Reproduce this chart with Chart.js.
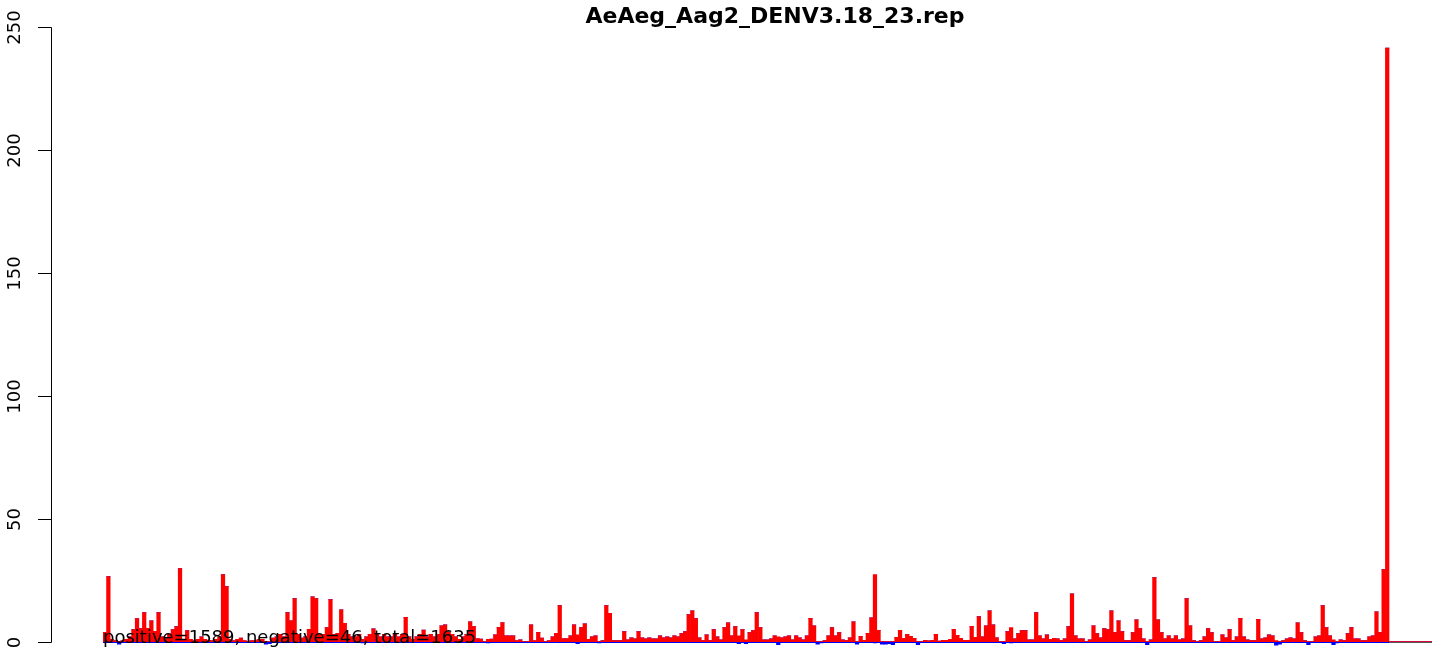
<!DOCTYPE html>
<html>
<head>
<meta charset="utf-8">
<script src="https://cdn.jsdelivr.net/npm/chart.js@4/dist/chart.umd.min.js"></script>
<style>
    html, body { margin: 0; padding: 0; background: #fff; }
    #wrap { width: 1444px; height: 656px; }
</style>
</head>
<body>
<div id="wrap"><canvas id="repChart" width="1444" height="656"></canvas></div>
<script>
const chartTitle = "AeAeg_Aag2_DENV3.18_23.rep";
const summaryText = "positive=1589, negative=46, total=1635";
const yTicks = [0, 50, 100, 150, 200, 250];

// one value per bin
const positiveCounts = [
    3.8, 26.5, 1, 0.5, 0, 0.5, 1, 2, 4.9, 9.4, 5.3, 11.8, 5.4, 8.5, 4.2, 11.8, 2, 1.5, 3, 4.9,
    6.1, 29.7, 1, 4.5, 1, 0.5, 1, 2, 1, 0.5, 0.5, 1, 2, 27.3, 22.4, 1, 0.5, 1, 1.5, 0.5,
    0, 0.5, 0.5, 1, 1, 0, 0, 1.5, 2, 3, 2, 11.8, 8.5, 17.5, 3, 1.5, 2, 5, 18.3, 17.5,
    3, 3, 5.7, 17.1, 3, 3.4, 13, 7.5, 3, 2, 2, 3, 1, 2, 3, 5.2, 3, 2, 3, 2,
    2, 3, 2, 3, 9.9, 2, 1, 2, 3, 4.7, 2, 3, 2, 3, 6.5, 6.9, 4, 3, 2, 1,
    2, 3, 8.1, 6.1, 1.3, 1.1, 0, 1, 1.1, 2.8, 5.8, 7.8, 2.4, 2.4, 2.4, 0.5, 0.8, 0, 0, 6.9,
    0.5, 3.8, 1.5, 0, 0.5, 2, 3.4, 14.7, 1.3, 1.3, 2.4, 6.9, 2.8, 5.7, 7.3, 1.0, 2.0, 2.4, 0, 0.4,
    14.7, 11.5, 0.4, 0.4, 0.4, 4.1, 0.8, 1.6, 1.2, 4.1, 1.6, 1.2, 1.6, 1.2, 1.2, 2.4, 1.6, 2.0, 1.6, 2.4,
    2.0, 3.3, 4.1, 11.0, 12.6, 9.4, 1.6, 0.4, 2.8, 0.4, 4.9, 2.0, 0.8, 5.7, 7.7, 2.4, 6.1, 2.4, 4.9, 0.8,
    3.7, 4.5, 11.8, 5.7, 0.8, 0.8, 1.2, 2.4, 2.0, 1.6, 2.0, 2.4, 0.8, 2.4, 1.6, 0.8, 2.4, 9.5, 6.5, 0,
    0, 0.4, 2.4, 5.7, 2.4, 3.7, 0.8, 0.4, 1.6, 8.1, 0, 2.2, 0.6, 3.4, 9.7, 27.3, 4.6, 0, 0, 0,
    0, 1.8, 4.6, 1.4, 3.0, 2.2, 1.4, 0, 0, 0.6, 0.3, 0.6, 3.0, 0.2, 0.6, 0.6, 1.0, 5.0, 2.6, 1.4,
    0.6, 0.6, 6.2, 1.8, 10.2, 2.0, 6.5, 12.6, 6.9, 1.6, 0, 0, 4.1, 5.7, 1.2, 3.3, 4.5, 4.5, 0.8, 0.8,
    11.8, 2.4, 1.2, 2.8, 1.0, 1.4, 1.2, 0.4, 1.2, 6.1, 19.5, 2.4, 1.2, 1.2, 0, 0.8, 6.5, 3.3, 1.6, 5.3,
    4.9, 12.6, 3.7, 8.5, 4.1, 0.4, 0.4, 3.7, 8.9, 5.3, 1.2, 0, 0.8, 26.1, 8.9, 3.7, 1.2, 2.4, 1.2, 2.4,
    0.8, 1.2, 17.5, 6.5, 0.4, 0, 0.4, 2.0, 5.3, 3.7, 0, 0, 2.8, 1.6, 4.9, 0.4, 2.0, 9.5, 2.0, 0.8,
    0.4, 0.4, 9.1, 1.2, 1.6, 2.8, 2.4, 0.4, 0, 0.4, 1.2, 1.6, 1.2, 7.7, 3.7, 0.4, 0, 0, 2.0, 2.4,
    14.7, 5.7, 2.4, 0.8, 0, 0.8, 0.4, 3.3, 5.7, 1.2, 1.2, 0.4, 0.4, 2.0, 2.4, 12.2, 3.7, 29.3, 241.5, 0,
    0, 0, 0, 0, 0, 0, 0, 0, 0, 0, 0
];

// bins with reads on the minus strand: [bin, value]
const negativeCounts = [
    [4, -1], [45, -1], [46, -0.8], [72, -0.5], [107, -0.5], [132, -0.8], [138, -0.5],
    [177, -0.8], [179, -0.8], [188, -1.2], [199, -1], [200, -0.5], [210, -1], [215, -0.5],
    [217, -1], [218, -1], [219, -0.8], [220, -1.2], [227, -1.2], [228, -0.3], [251, -0.8],
    [253, -0.5], [291, -1.2], [310, -0.4], [311, -0.4], [327, -1.4], [328, -1], [336, -1.2],
    [343, -1.2], [344, -0.5]
];

const lastDataBin = 358;
const bins = positiveCounts.map((v, i) => i + 1);
const negativeSeries = positiveCounts.map(() => 0);
negativeCounts.forEach(([i, v]) => { negativeSeries[i] = v; });

const FONT = "'DejaVu Sans', sans-serif";

const rAxis = {
    id: "rAxis",
    beforeDatasetsDraw(chart) {
        const { ctx, scales: { x, y } } = chart;
        const y0 = Math.round(y.getPixelForValue(0)) + 0.5;
        ctx.save();
        ctx.strokeStyle = "#555";
        ctx.lineWidth = 1;
        ctx.beginPath();
        ctx.moveTo(chart.chartArea.left, y0);
        ctx.lineTo(chart.chartArea.right, y0);
        ctx.stroke();
        ctx.restore();
    },
    afterDatasetsDraw(chart) {
        const { ctx, scales: { x, y } } = chart;
        const y0 = Math.round(y.getPixelForValue(0)) + 0.5;
        const half = (x.getPixelForValue(1) - x.getPixelForValue(0)) / 2;
        ctx.save();
        // zero-height minus bars show as a blue rule along the baseline
        ctx.strokeStyle = "#0000ff";
        ctx.beginPath();
        ctx.moveTo(x.getPixelForValue(0) - half, y0);
        ctx.lineTo(x.getPixelForValue(lastDataBin) + half, y0);
        ctx.stroke();

        // y axis, R style
        const axX = 51.5;
        ctx.strokeStyle = "#000";
        ctx.beginPath();
        ctx.moveTo(axX, Math.round(y.getPixelForValue(yTicks[0])) + 0.5);
        ctx.lineTo(axX, Math.round(y.getPixelForValue(yTicks[yTicks.length - 1])) + 0.5);
        ctx.stroke();
        ctx.fillStyle = "#000";
        ctx.font = "18px " + FONT;
        ctx.textAlign = "center";
        ctx.textBaseline = "alphabetic";
        yTicks.forEach(t => {
            const py = Math.round(y.getPixelForValue(t)) + 0.5;
            ctx.beginPath();
            ctx.moveTo(38, py);
            ctx.lineTo(axX, py);
            ctx.stroke();
            ctx.save();
            ctx.translate(20, py);
            ctx.rotate(-Math.PI / 2);
            ctx.fillText(String(t), 0, 0);
            ctx.restore();
        });

        ctx.font = "bold 22px " + FONT;
        ctx.fillText(chartTitle, 775, 23);

        ctx.font = "18px " + FONT;
        ctx.textAlign = "left";
        ctx.fillText(summaryText, 103, 643);
        ctx.restore();
    }
};

new Chart(document.getElementById("repChart"), {
    type: "bar",
    data: {
        labels: bins,
        datasets: [
            { label: "positive", data: positiveCounts, backgroundColor: "#ff0000", borderWidth: 0 },
            { label: "negative", data: negativeSeries, backgroundColor: "#0000ff", borderWidth: 0 }
        ]
    },
    options: {
        responsive: false,
        animation: false,
        devicePixelRatio: 1,
        layout: { padding: { left: 103, right: 12, top: 27.3, bottom: 6.94 } },
        datasets: { bar: { barPercentage: 1, categoryPercentage: 1 } },
        scales: {
            x: { display: false, stacked: true },
            y: { display: false, stacked: true, min: -3, max: 250 }
        },
        plugins: { legend: { display: false }, tooltip: { enabled: false }, title: { display: false } }
    },
    plugins: [rAxis]
});
</script>
</body>
</html>
